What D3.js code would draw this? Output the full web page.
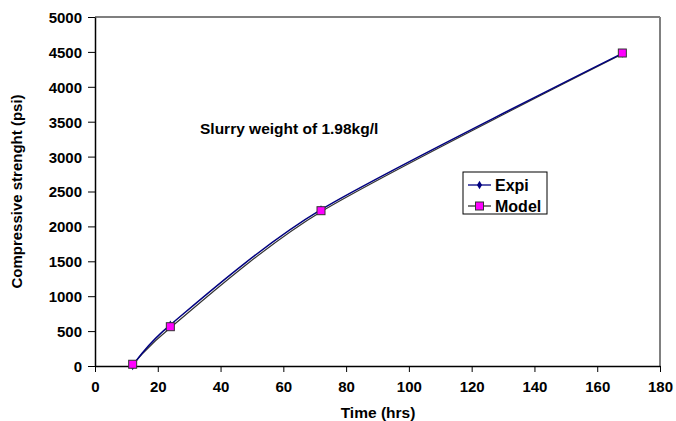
<!DOCTYPE html>
<html>
<head>
<meta charset="utf-8">
<script src="https://cdn.jsdelivr.net/npm/d3@7"></script>
<style>
	body { margin: 0; background: #fff; }
	svg { display: block; font-family: "Liberation Sans", Arial, sans-serif; font-weight: bold; }
</style>
</head>
<body>
<svg id="chart" width="676" height="421"></svg>
<script>
// data
var timeHrs = [12, 24, 72, 168];
var expiValues = [0, 590, 2240, 4480];
var modelValues = [25, 563, 2225, 4484];
var xTicks = [0, 20, 40, 60, 80, 100, 120, 140, 160, 180];
var yTicks = [0, 500, 1000, 1500, 2000, 2500, 3000, 3500, 4000, 4500, 5000];
var seriesNames = ["Expi", "Model"];

var svg = d3.select("#chart");
var m = { left: 95, right: 16, top: 17, bottom: 55 };
var W = 676, H = 421;

var x = d3.scaleLinear().domain([0, 180]).range([m.left, W - m.right]);
var y = d3.scaleLinear().domain([0, 5000]).range([H - m.bottom, m.top]);

// frame: black top, gray right
svg.append("line")
	.attr("x1", x(0)).attr("x2", x(180))
	.attr("y1", y(5000)).attr("y2", y(5000))
	.attr("stroke", "#000").attr("stroke-width", 1.2);
svg.append("line")
	.attr("x1", x(180)).attr("x2", x(180))
	.attr("y1", y(5000)).attr("y2", y(0))
	.attr("stroke", "#808080").attr("stroke-width", 2);

var xAxis = svg.append("g")
	.attr("transform", "translate(0," + y(0) + ")")
	.call(d3.axisBottom(x).tickValues(xTicks).tickFormat(d3.format("d")).tickSize(6).tickSizeOuter(0).tickPadding(9));
var yAxis = svg.append("g")
	.attr("transform", "translate(" + x(0) + ",0)")
	.call(d3.axisLeft(y).tickValues(yTicks).tickFormat(d3.format("d")).tickSize(7).tickSizeOuter(0).tickPadding(6));

[xAxis, yAxis].forEach(function (a) {
	a.select(".domain").attr("stroke", "#000").attr("stroke-width", 1.5);
	a.selectAll(".tick line").attr("stroke", "#000").attr("stroke-width", 1);
	a.selectAll(".tick text")
		.attr("fill", "#000")
		.style("font-size", "15px")
		.style("font-family", "Liberation Sans, Arial, sans-serif")
		.style("font-weight", "bold");
});
yAxis.selectAll(".tick text").attr("dy", "0.36em");

// axis titles
svg.append("text")
	.attr("x", 378).attr("y", 418)
	.attr("text-anchor", "middle")
	.style("font-size", "15.5px")
	.text("Time (hrs)");
svg.append("text")
	.attr("transform", "translate(22," + ((y(0) + y(5000)) / 2) + ") rotate(-90)")
	.attr("text-anchor", "middle")
	.style("font-size", "15px")
	.text("Compressive strenght (psi)");

// annotation
svg.append("text")
	.attr("x", 200).attr("y", 134)
	.style("font-size", "15.5px")
	.text("Slurry weight of 1.98kg/l");

var line = d3.line().curve(d3.curveCardinal.tension(0.2));

var expiPts = timeHrs.map(function (t, i) { return [x(t), y(expiValues[i])]; });
var modelPts = timeHrs.map(function (t, i) { return [x(t), y(modelValues[i])]; });

svg.append("path")
	.attr("d", line(modelPts))
	.attr("fill", "none").attr("stroke", "#333").attr("stroke-width", 1.2)
	.attr("transform", "translate(0,1)");
svg.append("path")
	.attr("d", line(expiPts))
	.attr("fill", "none").attr("stroke", "#000080").attr("stroke-width", 1.5);

var diamond = d3.symbol().type(d3.symbolDiamond).size(22);
svg.selectAll(".expi").data(expiPts).enter().append("path")
	.attr("class", "expi")
	.attr("d", diamond)
	.attr("transform", function (d) { return "translate(" + d[0] + "," + d[1] + ")"; })
	.attr("fill", "#000080");

svg.selectAll(".model").data(modelPts).enter().append("rect")
	.attr("class", "model")
	.attr("x", function (d) { return d[0] - 4; })
	.attr("y", function (d) { return d[1] - 4; })
	.attr("width", 8).attr("height", 8)
	.attr("fill", "#ff00ff").attr("stroke", "#333").attr("stroke-width", 1);

// legend
var lg = svg.append("g").attr("transform", "translate(463,172)");
lg.append("rect")
	.attr("width", 84).attr("height", 42)
	.attr("fill", "#fff").attr("stroke", "#000").attr("stroke-width", 1);
seriesNames.forEach(function (name, i) {
	var cy = 13 + i * 21;
	var row = lg.append("g");
	row.append("line")
		.attr("x1", 5).attr("x2", 28).attr("y1", cy).attr("y2", cy)
		.attr("stroke", i === 0 ? "#000080" : "#333").attr("stroke-width", 1.3);
	if (i === 0) {
		row.append("path").attr("d", diamond)
			.attr("transform", "translate(16.5," + cy + ")")
			.attr("fill", "#000080");
	} else {
		row.append("rect")
			.attr("x", 12.5).attr("y", cy - 4).attr("width", 8).attr("height", 8)
			.attr("fill", "#ff00ff").attr("stroke", "#333");
	}
	row.append("text")
		.attr("x", 32).attr("y", cy + 5.5)
		.style("font-size", "16px")
		.text(name);
});
</script>
</body>
</html>
